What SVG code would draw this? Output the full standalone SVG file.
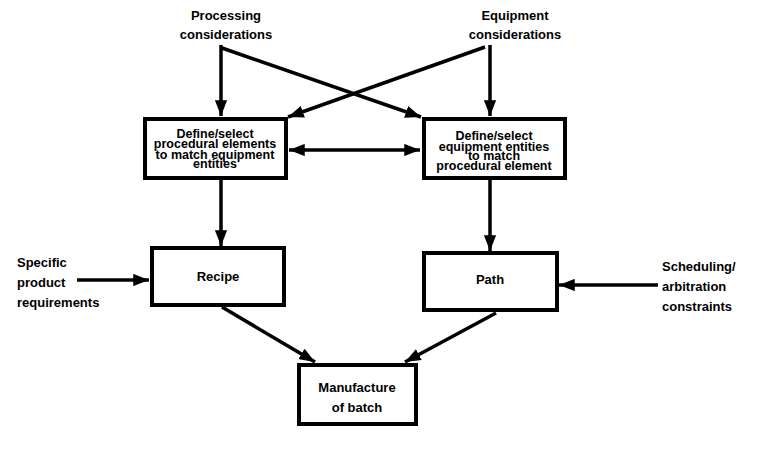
<svg xmlns="http://www.w3.org/2000/svg" width="758" height="449" viewBox="0 0 758 449">
<style>
.box{fill:#fff;stroke:#000;stroke-width:4}
.t{font-family:"Liberation Sans",Arial,sans-serif;font-weight:bold;font-size:13px;fill:#000}
.bt{font-family:"Liberation Sans",Arial,sans-serif;font-weight:bold;font-size:12.5px;fill:#000;text-anchor:middle}
.c{text-anchor:middle}
.ln{stroke:#000;stroke-width:3.5;fill:none}
</style>
<defs>
<marker id="ah" viewBox="0 0 10 10" refX="10" refY="5" markerWidth="4.5" markerHeight="3.5" orient="auto" markerUnits="strokeWidth" preserveAspectRatio="none">
<path d="M0,0 L10,5 L0,10 z" fill="#000"/>
</marker>
<marker id="as" viewBox="0 0 10 10" refX="0" refY="5" markerWidth="4.5" markerHeight="3.5" orient="auto" markerUnits="strokeWidth" preserveAspectRatio="none">
<path d="M10,0 L0,5 L10,10 z" fill="#000"/>
</marker>
</defs>
<rect width="758" height="449" fill="#fff"/>
<g id="labels">
<text class="t c" x="226" y="20">Processing</text>
<text class="t c" x="226" y="39">considerations</text>
<text class="t c" x="515" y="20">Equipment</text>
<text class="t c" x="515" y="39">considerations</text>
<text class="t" x="17" y="267">Specific</text>
<text class="t" x="17" y="287">product</text>
<text class="t" x="17" y="307">requirements</text>
<text class="t" x="662" y="271">Scheduling/</text>
<text class="t" x="662" y="291">arbitration</text>
<text class="t" x="662" y="311">constraints</text>
</g>
<g id="connectors">
<line class="ln" x1="221" y1="45" x2="221" y2="116" marker-end="url(#ah)"/>
<line class="ln" x1="222" y1="48" x2="421" y2="117" marker-end="url(#ah)"/>
<line class="ln" x1="490" y1="45" x2="490" y2="116" marker-end="url(#ah)"/>
<line class="ln" x1="485" y1="47" x2="288" y2="117" marker-end="url(#ah)"/>
<line class="ln" x1="289" y1="150" x2="420" y2="150" marker-start="url(#as)" marker-end="url(#ah)"/>
<line class="ln" x1="221" y1="180" x2="221" y2="246" marker-end="url(#ah)"/>
<line class="ln" x1="490" y1="180" x2="490" y2="251" marker-end="url(#ah)"/>
<line class="ln" x1="77" y1="280" x2="149" y2="280" marker-end="url(#ah)"/>
<line class="ln" x1="658" y1="285" x2="559" y2="285" marker-end="url(#ah)"/>
<line class="ln" x1="222" y1="307" x2="315" y2="362" marker-end="url(#ah)"/>
<line class="ln" x1="496" y1="313" x2="405" y2="362" marker-end="url(#ah)"/>
</g>
<g id="n1">
<rect class="box" x="145" y="119" width="141" height="59"/>
<text class="bt" x="215" y="138">Define/select</text>
<text class="bt" x="215" y="148">procedural elements</text>
<text class="bt" x="215" y="159">to match equipment</text>
<text class="bt" x="215" y="168">entities</text>
</g>
<g id="n2">
<rect class="box" x="424" y="119" width="141" height="59"/>
<text class="bt" x="494" y="140">Define/select</text>
<text class="bt" x="494" y="151">equipment entities</text>
<text class="bt" x="494" y="160">to match</text>
<text class="bt" x="494" y="170">procedural element</text>
</g>
<g id="n3">
<rect class="box" x="152" y="248" width="132" height="57"/>
<text class="t c" x="218" y="281">Recipe</text>
</g>
<g id="n4">
<rect class="box" x="424" y="253" width="133" height="57"/>
<text class="t c" x="490" y="284">Path</text>
</g>
<g id="n5">
<rect class="box" x="299" y="365" width="117" height="59"/>
<text class="t c" x="357" y="392">Manufacture</text>
<text class="t c" x="357" y="412">of batch</text>
</g>
</svg>
